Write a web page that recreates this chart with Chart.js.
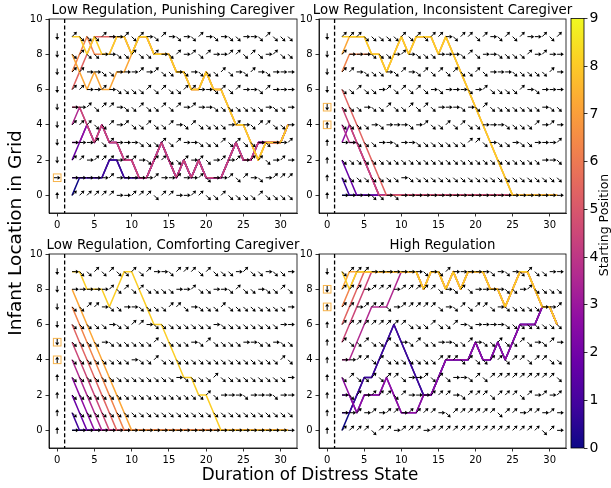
<!DOCTYPE html>
<html>
<head>
<meta charset="utf-8">
<script src="https://cdn.jsdelivr.net/npm/chart.js@4.4.1/dist/chart.umd.min.js"></script>
<style>
  body { margin: 0; background: #fff; }
  #fig { position: relative; width: 611px; height: 488px; }
  #fig canvas { position: absolute; left: 0; top: 0; }
</style>
</head>
<body>
<div id="fig">
  <canvas id="p0" width="611" height="488"></canvas>
  <canvas id="p1" width="611" height="488"></canvas>
  <canvas id="p2" width="611" height="488"></canvas>
  <canvas id="p3" width="611" height="488"></canvas>
  <canvas id="cbar" width="611" height="488"></canvas>
</div>
<script>
// Infant location over time, one path per starting position (0..9)
const durations = [2,3,4,5,6,7,8,9,10,11,12,13,14,15,16,17,18,19,20,21,22,23,24,25,26,27,28,29,30,31];
const xTicks = [0,5,10,15,20,25,30];
const yTicks = [0,2,4,6,8,10];
const startTicks = [0,1,2,3,4,5,6,7,8,9];

const titles = [
  'Low Regulation, Punishing Caregiver',
  'Low Regulation, Inconsistent Caregiver',
  'Low Regulation, Comforting Caregiver',
  'High Regulation'
];

// paths[s] = grid location at each duration for starting position s
const punishingPaths = [
  [0,1,1,1,1,2,2,1,1,1,1,2,3,2,1,2,1,2,1,1,1,2,3,2,2,3,3,3,3,4],
  [1,1,1,1,1,2,2,1,1,1,1,2,3,2,1,2,1,2,1,1,1,2,3,2,2,3,3,3,3,4],
  [2,3,4,3,4,3,3,2,2,1,1,2,3,2,1,2,1,2,1,1,1,2,3,2,2,3,3,3,3,4],
  [3,3,4,3,4,3,3,2,2,1,1,2,3,2,1,2,1,2,1,1,1,2,3,2,2,3,3,3,3,4],
  [4,5,4,3,4,3,3,2,2,1,1,2,3,2,1,2,1,2,1,1,1,2,3,2,2,3,3,3,3,4],
  [5,5,4,3,4,3,3,2,2,1,1,2,3,2,1,2,1,2,1,1,1,2,3,2,2,3,3,3,3,4],
  [6,7,8,9,9,9,9,9,8,9,9,8,8,8,7,7,6,6,7,6,6,5,4,4,3,2,3,3,3,4],
  [7,8,9,8,8,8,9,9,8,9,9,8,8,8,7,7,6,6,7,6,6,5,4,4,3,2,3,3,3,4],
  [8,7,6,7,6,6,7,7,8,9,9,8,8,8,7,7,6,6,7,6,6,5,4,4,3,2,3,3,3,4],
  [9,9,8,9,8,8,9,9,8,9,9,8,8,8,7,7,6,6,7,6,6,5,4,4,3,2,3,3,3,4]
];
const inconsistentPaths = [
  [0,0,0,0,0,0,0,0,0,0,0,0,0,0,0,0,0,0,0,0,0,0,0,0,0,0,0,0,0,0],
  [1,0,0,0,0,0,0,0,0,0,0,0,0,0,0,0,0,0,0,0,0,0,0,0,0,0,0,0,0,0],
  [2,1,0,0,0,0,0,0,0,0,0,0,0,0,0,0,0,0,0,0,0,0,0,0,0,0,0,0,0,0],
  [3,4,3,2,1,0,0,0,0,0,0,0,0,0,0,0,0,0,0,0,0,0,0,0,0,0,0,0,0,0],
  [4,3,3,2,1,0,0,0,0,0,0,0,0,0,0,0,0,0,0,0,0,0,0,0,0,0,0,0,0,0],
  [5,4,3,2,1,0,0,0,0,0,0,0,0,0,0,0,0,0,0,0,0,0,0,0,0,0,0,0,0,0],
  [6,5,4,3,2,1,0,0,0,0,0,0,0,0,0,0,0,0,0,0,0,0,0,0,0,0,0,0,0,0],
  [7,8,8,8,8,8,7,8,9,8,9,9,9,8,9,8,7,6,5,4,3,2,1,0,0,0,0,0,0,0],
  [8,9,9,9,8,8,7,8,9,8,9,9,9,8,9,8,7,6,5,4,3,2,1,0,0,0,0,0,0,0],
  [9,9,9,9,8,8,7,8,9,8,9,9,9,8,9,8,7,6,5,4,3,2,1,0,0,0,0,0,0,0]
];
const comfortingPaths = [
  [0,0,0,0,0,0,0,0,0,0,0,0,0,0,0,0,0,0,0,0,0,0,0,0,0,0,0,0,0,0],
  [1,0,0,0,0,0,0,0,0,0,0,0,0,0,0,0,0,0,0,0,0,0,0,0,0,0,0,0,0,0],
  [2,1,0,0,0,0,0,0,0,0,0,0,0,0,0,0,0,0,0,0,0,0,0,0,0,0,0,0,0,0],
  [3,2,1,0,0,0,0,0,0,0,0,0,0,0,0,0,0,0,0,0,0,0,0,0,0,0,0,0,0,0],
  [4,3,2,1,0,0,0,0,0,0,0,0,0,0,0,0,0,0,0,0,0,0,0,0,0,0,0,0,0,0],
  [5,4,3,2,1,0,0,0,0,0,0,0,0,0,0,0,0,0,0,0,0,0,0,0,0,0,0,0,0,0],
  [6,5,4,3,2,1,0,0,0,0,0,0,0,0,0,0,0,0,0,0,0,0,0,0,0,0,0,0,0,0],
  [7,6,5,4,3,2,1,0,0,0,0,0,0,0,0,0,0,0,0,0,0,0,0,0,0,0,0,0,0,0],
  [8,7,6,5,4,3,2,1,0,0,0,0,0,0,0,0,0,0,0,0,0,0,0,0,0,0,0,0,0,0],
  [9,9,8,8,8,7,8,9,9,8,7,6,6,5,4,3,3,2,2,1,0,0,0,0,0,0,0,0,0,0]
];
const highRegPaths = [
  [0,1,2,3,3,4,5,6,5,4,3,2,2,3,4,4,4,4,5,4,4,5,4,5,6,6,6,7,7,6],
  [1,1,2,3,3,4,5,6,5,4,3,2,2,3,4,4,4,4,5,4,4,5,4,5,6,6,6,7,7,6],
  [2,2,1,2,2,2,3,2,1,1,1,2,2,3,4,4,4,4,5,4,4,5,4,5,6,6,6,7,7,6],
  [3,2,1,2,2,2,3,2,1,1,1,2,2,3,4,4,4,4,5,4,4,5,4,5,6,6,6,7,7,6],
  [4,4,5,6,7,7,7,8,9,9,9,8,9,9,8,9,8,9,9,9,8,8,7,8,9,9,8,7,7,6],
  [5,6,7,8,9,9,9,9,9,9,9,8,9,9,8,9,8,9,9,9,8,8,7,8,9,9,8,7,7,6],
  [6,7,8,9,9,9,9,9,9,9,9,8,9,9,8,9,8,9,9,9,8,8,7,8,9,9,8,7,7,6],
  [7,8,9,9,9,9,9,9,9,9,9,8,9,9,8,9,8,9,9,9,8,8,7,8,9,9,8,7,7,6],
  [8,9,9,9,9,9,9,9,9,9,9,8,9,9,8,9,8,9,9,9,8,8,7,8,9,9,8,7,7,6],
  [9,8,9,9,9,9,9,9,9,9,9,8,9,9,8,9,8,9,9,9,8,8,7,8,9,9,8,7,7,6]
];

// policy arrows, rows from location 9 down to 0, one letter per duration 2..31
// r = stay (right), u = move up, d = move down
const punishingArrows = [
  'udddu rrudu rdurd rdurd rddrr duddd',
  'duddr rddud durdu rudur ruudu drudd',
  'uurrd drrru ruddr drddd udrdu rdrrr',
  'uurru rdddd ududd uurrd udurr durrr',
  'rrudu urddu ddudu rurrd ddddd drddr',
  'uuudd urudd uddur duddd drurd uuddr',
  'rrrud urrrd ddudu rrddd ududd rdrru',
  'uuruu uruur duudd urudr ururu udrur',
  'rrrrr urrrr rurru rrudr rudur druuu',
  'uuuuu urruu uduur ruudd udddd udddd'
];
const inconsistentArrows = [
  'uuudd dddud uduur duudu rdudu rrudu',
  'urrrd ddrur dddrr rdudr rdddd ururr',
  'uurdd drdur dudud uddud rrrdd dddur',
  'ddudd rudud udrdr rrdru ddddu rdrrr',
  'dddrd duddu dudrr rdrdu ddddd ddrdd',
  'ddddr drrrd ruddu duddr rrddd durur',
  'rrddd rrdrr ddddd dduud rddrd drrru',
  'ddddd ddddd ddddd ddddd ddddd ddrrd',
  'ddddd dddrd ddddd ddddd ddddd ddddd',
  'rrrrd drdrr rrrrr rrrrr rrrrr rrrrr'
];
const comfortingArrows = [
  'rddud uddud urrdu uudud ddrud drddr',
  'rrrrr ududu ddddr ruddr rdudd rddud',
  'dduur ddrrd ddduu drddd udddd ddddr',
  'ddddd rdduu rdddd ddddr ddddd dddrr',
  'ddddr ddddd duddd drdud dddrr ddrdd',
  'ddddd dddrd duddd ddddd ddddd dddud',
  'ddddd ddddd ddddr ddddu ddddd ddddr',
  'ddddd ddddd ddddd dddud rrrdr rrdrr',
  'ddddd ddddd ddddd ddddd ddddd ddddd',
  'rrrrr rrrrr rrrrr rrrrr rrrrr rrrrr'
];
const highRegArrows = [
  'duuur rrrrr rdrdu rrrrr drdrd uddrr',
  'uuuru uuruu uuudr dudrr rrddr udddd',
  'uuruu udruu uuudr duduu drddd ddrru',
  'uuuuu uuuud ddudd urdrr rrddd ddddd',
  'uddud dudrd uddrr ddurd duddu drdur',
  'rruud udddd ddduu ududd uuduu duudd',
  'duddu duudr rudud rrdud uuuuu uuuud',
  'rduru uudur rruuu rduuu duuud ururu',
  'rruru ruuru uuurd uuuuu uduur uurur',
  'uuuud uuruu uruuu uuuuu uuuuu uudur'
];

// action at duration 0, locations 9 down to 0 (D = down, U = up, R = stay)
const punishingStart = 'DDDDDDDDRU';
const inconsistentStart = 'DDDDDUUUUU';
const comfortingStart = 'DDDDDUUUUU';
const highRegStart = 'DDUUUUUUUU';

// highlighted locations at duration 0
const punishingMarks = [1];
const inconsistentMarks = [5, 4];
const comfortingMarks = [5, 4];
const highRegMarks = [8, 7];

const plasma = ['#0d0887','#41049d','#6a00a8','#8f0da4','#b12a90','#cc4778','#e16462','#f2844b','#fca636','#fcce25','#f0f921'];

Chart.defaults.font.family = 'DejaVu Sans';
Chart.defaults.color = '#000';

const DIRS = { r: [1, 0], u: [0.7071, -0.7071], d: [0.7071, 0.7071], U: [0, -1], D: [0, 1], R: [1, 0] };

function drawArrow(ctx, x, y, dir, len) {
  const [dx, dy] = DIRS[dir];
  const hl = 3, hw = 2;
  const ex = x + dx * len, ey = y + dy * len;
  const bx = ex - dx * hl, by = ey - dy * hl;
  ctx.beginPath();
  ctx.moveTo(x, y);
  ctx.lineTo(bx, by);
  ctx.stroke();
  ctx.beginPath();
  ctx.moveTo(ex, ey);
  ctx.lineTo(bx - dy * hw, by + dx * hw);
  ctx.lineTo(bx + dy * hw, by - dx * hw);
  ctx.closePath();
  ctx.fill();
}

const panelPlugin = {
  id: 'panelExtras',
  afterDatasetsDraw(chart, args, opts) {
    const { ctx, chartArea: a, scales: { x, y } } = chart;
    ctx.save();
    ctx.beginPath();
    ctx.rect(a.left, a.top, a.right - a.left, a.bottom - a.top);
    ctx.clip();
    // dashed line at duration 1
    ctx.strokeStyle = '#000';
    ctx.lineWidth = 1.3;
    ctx.setLineDash([4, 2.4]);
    ctx.beginPath();
    ctx.moveTo(x.getPixelForValue(1), a.top);
    ctx.lineTo(x.getPixelForValue(1), a.bottom);
    ctx.stroke();
    ctx.setLineDash([]);
    // quiver arrows
    ctx.fillStyle = '#000';
    ctx.strokeStyle = '#000';
    ctx.lineWidth = 1;
    opts.arrows.forEach((row, r) => {
      const loc = 9 - r;
      row.replace(/\s/g, '').split('').forEach((ch, i) => {
        drawArrow(ctx, x.getPixelForValue(durations[i]), y.getPixelForValue(loc), ch, 6.8);
      });
    });
    // column at duration 0
    opts.start.split('').forEach((ch, r) => {
      const loc = 9 - r;
      const px = x.getPixelForValue(0), py = y.getPixelForValue(loc);
      const [dx, dy] = DIRS[ch];
      drawArrow(ctx, px - dx * 3.4, py - dy * 3.4, ch, 6.8);
    });
    ctx.strokeStyle = 'rgba(245,160,30,0.8)';
    ctx.lineWidth = 1;
    opts.marks.forEach(loc => {
      const px = x.getPixelForValue(0), py = y.getPixelForValue(loc);
      ctx.strokeRect(px - 3.8, py - 3.8, 7.6, 7.6);
    });
    ctx.restore();
  },
  afterDraw(chart, args, opts) {
    const { ctx, chartArea: a } = chart;
    ctx.save();
    ctx.strokeStyle = '#000';
    ctx.lineWidth = 0.8;
    ctx.strokeRect(a.left, a.top, a.right - a.left, a.bottom - a.top);
    ctx.fillStyle = '#000';
    ctx.font = '13.3px "DejaVu Sans"';
    ctx.textAlign = 'center';
    ctx.textBaseline = 'alphabetic';
    ctx.fillText(opts.title, (a.left + a.right) / 2, a.top - 5);
    ctx.restore();
  }
};

function makePanel(id, idx, paths, arrows, start, marks, area) {
  const [L, T, R, B] = area;
  return new Chart(document.getElementById(id), {
    type: 'line',
    data: {
      datasets: paths.map((p, s) => ({
        data: p.map((v, i) => ({ x: durations[i], y: v })),
        borderColor: plasma[s],
        borderWidth: 1.5,
        borderJoinStyle: 'round',
        pointRadius: 0,
        fill: false,
        tension: 0,
        order: 9 - s
      }))
    },
    options: {
      responsive: false,
      animation: false,
      events: [],
      layout: { padding: { left: L - 30, top: T, right: 611 - R, bottom: 488 - B - 20 } },
      plugins: {
        legend: { display: false },
        tooltip: { enabled: false },
        panelExtras: { title: titles[idx], arrows: arrows, start: start, marks: marks }
      },
      scales: {
        x: {
          type: 'linear', min: -1.1, max: 32.2,
          afterBuildTicks: s => { s.ticks = xTicks.map(v => ({ value: v })); },
          afterFit: s => { s.height = 20; },
          grid: { drawOnChartArea: false, color: '#000', tickLength: 3.5, lineWidth: 0.8 },
          border: { color: '#000', width: 0.8 },
          ticks: { font: { size: 10 }, padding: 3, maxRotation: 0, autoSkip: false }
        },
        y: {
          type: 'linear', min: -1, max: 10,
          afterBuildTicks: s => { s.ticks = yTicks.map(v => ({ value: v })); },
          afterFit: s => { s.width = 30; },
          grid: { drawOnChartArea: false, color: '#000', tickLength: 3.5, lineWidth: 0.8 },
          border: { color: '#000', width: 0.8 },
          ticks: { font: { size: 10 }, padding: 3 }
        }
      }
    },
    plugins: [panelPlugin]
  });
}

makePanel('p0', 0, punishingPaths, punishingArrows, punishingStart, punishingMarks, [49, 19, 297, 213]);
makePanel('p1', 1, inconsistentPaths, inconsistentArrows, inconsistentStart, inconsistentMarks, [319, 19, 566, 213]);
makePanel('p2', 2, comfortingPaths, comfortingArrows, comfortingStart, comfortingMarks, [49, 254, 297, 448]);
makePanel('p3', 3, highRegPaths, highRegArrows, highRegStart, highRegMarks, [319, 254, 566, 448]);

// colour bar for starting position, plus the figure-level axis labels
const cbarPlugin = {
  id: 'cbarExtras',
  beforeDatasetsDraw(chart) {
    const { ctx, chartArea: a } = chart;
    const g = ctx.createLinearGradient(0, a.bottom, 0, a.top);
    plasma.forEach((c, i) => g.addColorStop(i / (plasma.length - 1), c));
    ctx.save();
    ctx.fillStyle = g;
    ctx.fillRect(a.left, a.top, a.right - a.left, a.bottom - a.top);
    ctx.restore();
  },
  afterDraw(chart) {
    const { ctx, chartArea: a } = chart;
    ctx.save();
    ctx.strokeStyle = '#000';
    ctx.lineWidth = 0.8;
    ctx.strokeRect(a.left, a.top, a.right - a.left, a.bottom - a.top);
    ctx.fillStyle = '#000';
    ctx.textAlign = 'center';
    ctx.textBaseline = 'middle';
    ctx.font = '12.5px "DejaVu Sans"';
    ctx.translate(605, 225);
    ctx.rotate(-Math.PI / 2);
    ctx.fillText('Starting Position', 0, 0);
    ctx.restore();

    ctx.save();
    ctx.fillStyle = '#000';
    ctx.textAlign = 'center';
    ctx.textBaseline = 'middle';
    ctx.font = '16.8px "DejaVu Sans"';
    ctx.fillText('Duration of Distress State', 310, 476);
    ctx.font = '18.5px "DejaVu Sans"';
    ctx.translate(16, 233);
    ctx.rotate(-Math.PI / 2);
    ctx.fillText('Infant Location in Grid', 0, 0);
    ctx.restore();
  }
};

new Chart(document.getElementById('cbar'), {
  type: 'scatter',
  data: { datasets: [] },
  options: {
    responsive: false,
    animation: false,
    events: [],
    layout: { padding: { left: 571, top: 18.5, right: 7, bottom: 40 } },
    plugins: { legend: { display: false }, tooltip: { enabled: false } },
    scales: {
      x: { display: false, min: 0, max: 1 },
      y: {
        position: 'right', min: 0, max: 9,
        afterBuildTicks: s => { s.ticks = startTicks.map(v => ({ value: v })); },
        afterFit: s => { s.width = 20; },
        grid: { drawOnChartArea: false, color: '#000', tickLength: 3.5, lineWidth: 0.8 },
        border: { display: false },
        ticks: { font: { size: 14 }, padding: 2 }
      }
    }
  },
  plugins: [cbarPlugin]
});
</script>
</body>
</html>
